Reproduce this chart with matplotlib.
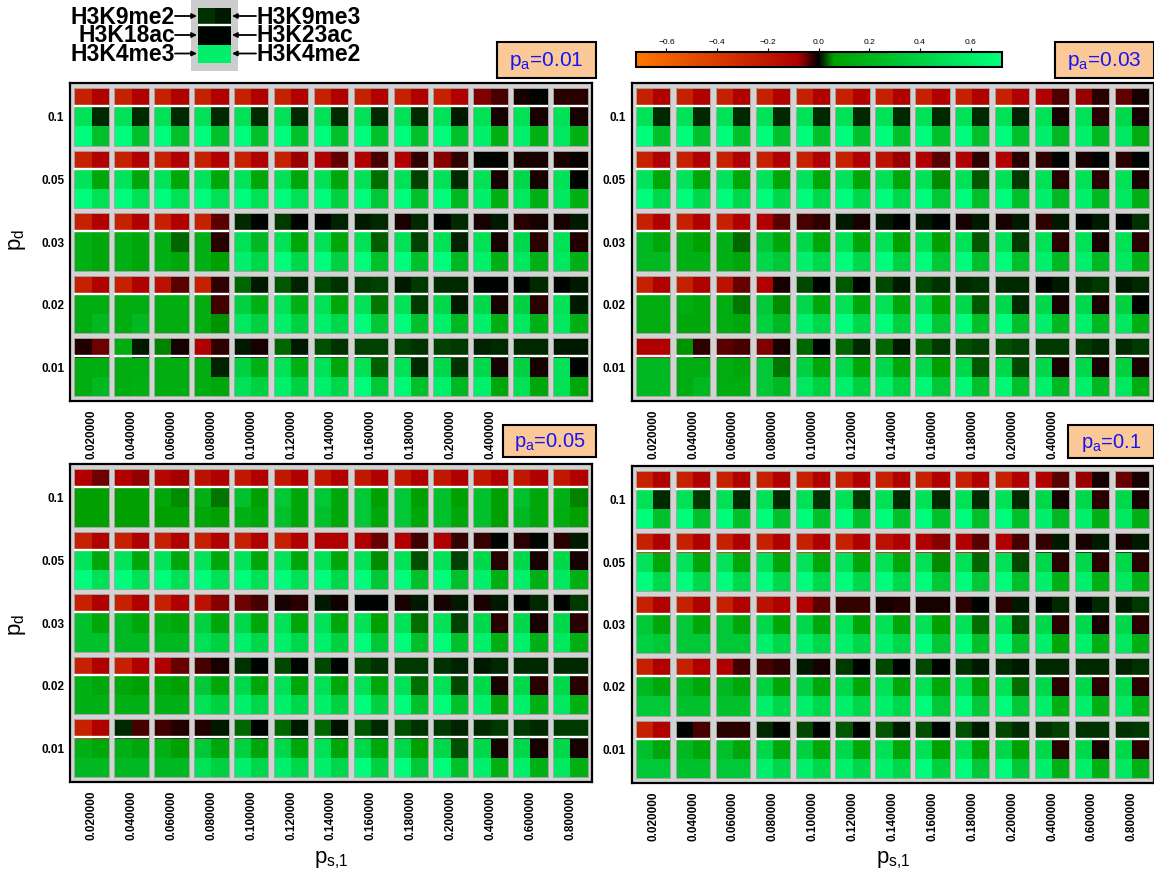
import numpy as np
import matplotlib
matplotlib.use('Agg')
import matplotlib.pyplot as plt
from matplotlib.colors import LinearSegmentedColormap, Normalize
from matplotlib.patches import Rectangle
from matplotlib.cm import ScalarMappable

plt.rcParams['font.family'] = ['Liberation Sans', 'DejaVu Sans']
plt.rcParams['mathtext.default'] = 'regular'

# ---------------- data ----------------
ps1_labels = ['0.020000', '0.040000', '0.060000', '0.080000', '0.100000', '0.120000', '0.140000',
              '0.160000', '0.180000', '0.200000', '0.400000', '0.600000', '0.800000']
pd_labels = ['0.1', '0.05', '0.03', '0.02', '0.01']
pa_labels = ['0.01', '0.03', '0.05', '0.1']
marks = ['H3K9me2', 'H3K9me3', 'H3K18ac', 'H3K23ac', 'H3K4me3', 'H3K4me2']
legend_vals = [0.018, 0.009, 0.0, 0.0, 0.62, 0.62]

# ---- p_a = 0.01 ----
pa001_K9me2 = [
    [-0.25, -0.25, -0.25, -0.25, -0.25, -0.25, -0.25, -0.25, -0.25, -0.25, -0.058, -0.011, -0.018],
    [-0.25, -0.25, -0.25, -0.25, -0.25, -0.25, -0.08, -0.08, -0.08, -0.062, 0.0, -0.011, -0.011],
    [-0.25, -0.25, -0.25, -0.25, 0.015, 0.021, 0.0, 0.009, -0.011, 0.0, -0.011, -0.018, -0.011],
    [-0.25, -0.25, -0.17, -0.25, 0.039, 0.033, 0.027, 0.021, 0.009, 0.015, 0.0, 0.0, 0.0],
    [-0.015, 0.15, 0.048, -0.08, 0.009, 0.039, 0.03, 0.024, 0.024, 0.024, 0.012, 0.015, 0.009]]
pa001_K9me3 = [
    [-0.08, -0.08, -0.08, -0.08, -0.08, -0.08, -0.08, -0.08, -0.08, -0.08, -0.033, 0.0, -0.018],
    [-0.08, -0.08, -0.08, -0.08, -0.08, -0.07, -0.044, -0.033, -0.022, -0.022, 0.0, -0.011, -0.004],
    [-0.08, -0.08, -0.08, -0.04, 0.0, 0.0, 0.012, 0.015, 0.015, 0.015, 0.009, -0.011, 0.009],
    [-0.08, -0.08, -0.04, -0.022, 0.009, 0.012, 0.018, 0.024, 0.021, 0.015, 0.0, 0.015, 0.009],
    [-0.05, 0.009, -0.011, -0.022, -0.011, 0.009, 0.018, 0.024, 0.018, 0.021, 0.015, 0.015, 0.009]]
pa001_K18ac = [
    [0.51, 0.51, 0.51, 0.51, 0.51, 0.51, 0.51, 0.51, 0.51, 0.51, 0.51, 0.51, 0.51],
    [0.53, 0.53, 0.53, 0.53, 0.53, 0.51, 0.51, 0.51, 0.51, 0.51, 0.51, 0.45, 0.51],
    [0.17, 0.17, 0.17, 0.17, 0.51, 0.51, 0.51, 0.51, 0.51, 0.51, 0.51, 0.45, 0.51],
    [0.15, 0.15, 0.15, 0.15, 0.40, 0.51, 0.51, 0.51, 0.51, 0.45, 0.45, 0.40, 0.51],
    [0.15, 0.15, 0.15, 0.15, 0.40, 0.51, 0.51, 0.51, 0.51, 0.45, 0.45, 0.40, 0.51]]
pa001_K23ac = [
    [0.015, 0.015, 0.015, 0.015, 0.015, 0.015, 0.015, 0.015, 0.015, 0.009, -0.011, -0.011, -0.011],
    [0.11, 0.11, 0.11, 0.11, 0.11, 0.11, 0.11, 0.042, 0.024, 0.015, -0.011, -0.011, 0.0],
    [0.11, 0.11, 0.039, -0.018, 0.23, 0.11, 0.11, 0.036, 0.024, 0.012, -0.011, -0.018, -0.015],
    [0.15, 0.15, 0.15, -0.029, 0.17, 0.17, 0.11, 0.045, 0.021, 0.009, -0.011, -0.018, 0.009],
    [0.15, 0.15, 0.15, 0.012, 0.17, 0.17, 0.11, 0.036, 0.015, 0.018, -0.011, -0.011, 0.0]]
pa001_K4me3 = [
    [0.70, 0.70, 0.70, 0.70, 0.70, 0.70, 0.70, 0.70, 0.70, 0.70, 0.62, 0.62, 0.56],
    [0.70, 0.70, 0.70, 0.70, 0.70, 0.70, 0.70, 0.70, 0.70, 0.70, 0.62, 0.56, 0.56],
    [0.17, 0.17, 0.17, 0.17, 0.62, 0.70, 0.70, 0.70, 0.70, 0.70, 0.62, 0.56, 0.56],
    [0.15, 0.15, 0.15, 0.15, 0.56, 0.62, 0.62, 0.70, 0.70, 0.62, 0.62, 0.56, 0.56],
    [0.15, 0.15, 0.15, 0.15, 0.51, 0.62, 0.62, 0.70, 0.67, 0.62, 0.62, 0.51, 0.51]]
pa001_K4me2 = [
    [0.29, 0.29, 0.29, 0.29, 0.29, 0.29, 0.29, 0.29, 0.29, 0.29, 0.17, 0.17, 0.17],
    [0.51, 0.51, 0.51, 0.51, 0.51, 0.51, 0.40, 0.34, 0.29, 0.23, 0.17, 0.17, 0.17],
    [0.11, 0.11, 0.11, 0.06, 0.45, 0.45, 0.40, 0.29, 0.29, 0.23, 0.17, 0.17, 0.17],
    [0.23, 0.23, 0.15, 0.054, 0.40, 0.40, 0.45, 0.34, 0.29, 0.23, 0.17, 0.17, 0.17],
    [0.23, 0.17, 0.15, 0.11, 0.40, 0.40, 0.45, 0.34, 0.29, 0.23, 0.11, 0.11, 0.11]]

# ---- p_a = 0.03 ----
pa003_K9me2 = [
    [-0.25, -0.25, -0.25, -0.25, -0.25, -0.25, -0.25, -0.25, -0.25, -0.25, -0.08, -0.07, -0.044],
    [-0.25, -0.25, -0.25, -0.25, -0.25, -0.25, -0.17, -0.08, -0.08, -0.08, -0.022, -0.011, -0.018],
    [-0.25, -0.25, -0.25, -0.08, -0.033, 0.009, 0.009, 0.009, -0.011, -0.011, -0.022, 0.0, 0.0],
    [-0.25, -0.25, -0.17, -0.08, 0.027, 0.033, 0.027, 0.027, 0.015, 0.015, 0.0, 0.015, 0.009],
    [-0.08, 0.054, -0.04, -0.058, 0.039, 0.039, 0.039, 0.039, 0.03, 0.03, 0.021, 0.021, 0.015]]
pa003_K9me3 = [
    [-0.08, -0.08, -0.08, -0.08, -0.08, -0.08, -0.08, -0.08, -0.08, -0.08, -0.036, -0.018, -0.011],
    [-0.08, -0.08, -0.08, -0.08, -0.08, -0.08, -0.07, -0.04, -0.022, -0.018, 0.0, 0.0, 0.0],
    [-0.08, -0.08, -0.08, -0.04, -0.022, -0.011, 0.0, 0.0, 0.009, 0.009, 0.009, 0.009, 0.018],
    [-0.08, -0.08, -0.047, -0.011, 0.0, 0.0, 0.009, 0.018, 0.018, 0.015, 0.009, 0.021, 0.015],
    [-0.08, -0.022, -0.033, -0.011, 0.0, 0.015, 0.009, 0.021, 0.024, 0.024, 0.021, 0.015, 0.021]]
pa003_K18ac = [
    [0.51, 0.51, 0.51, 0.51, 0.51, 0.51, 0.51, 0.51, 0.51, 0.51, 0.51, 0.51, 0.45],
    [0.53, 0.53, 0.53, 0.53, 0.53, 0.53, 0.51, 0.51, 0.51, 0.51, 0.51, 0.51, 0.51],
    [0.23, 0.17, 0.17, 0.34, 0.45, 0.51, 0.51, 0.51, 0.51, 0.51, 0.51, 0.51, 0.51],
    [0.15, 0.15, 0.15, 0.34, 0.45, 0.51, 0.51, 0.51, 0.45, 0.45, 0.45, 0.45, 0.40],
    [0.23, 0.15, 0.15, 0.34, 0.40, 0.45, 0.45, 0.45, 0.45, 0.45, 0.45, 0.45, 0.40]]
pa003_K23ac = [
    [0.015, 0.015, 0.015, 0.015, 0.015, 0.015, 0.015, 0.015, 0.015, 0.012, -0.011, -0.018, -0.011],
    [0.11, 0.11, 0.11, 0.11, 0.11, 0.11, 0.11, 0.051, 0.033, 0.021, -0.018, -0.018, -0.011],
    [0.11, 0.06, 0.039, 0.11, 0.11, 0.11, 0.06, 0.06, 0.033, 0.021, -0.018, -0.011, -0.018],
    [0.15, 0.11, 0.045, 0.051, 0.11, 0.11, 0.11, 0.06, 0.033, 0.015, -0.011, -0.011, 0.0],
    [0.23, 0.15, 0.11, 0.045, 0.11, 0.11, 0.11, 0.06, 0.033, 0.027, -0.011, -0.011, -0.011]]
pa003_K4me3 = [
    [0.70, 0.70, 0.70, 0.70, 0.70, 0.70, 0.70, 0.70, 0.70, 0.70, 0.62, 0.62, 0.56],
    [0.70, 0.70, 0.70, 0.70, 0.70, 0.70, 0.70, 0.70, 0.70, 0.70, 0.62, 0.62, 0.56],
    [0.23, 0.17, 0.17, 0.45, 0.62, 0.70, 0.70, 0.70, 0.70, 0.70, 0.62, 0.62, 0.56],
    [0.15, 0.11, 0.15, 0.40, 0.62, 0.70, 0.70, 0.70, 0.70, 0.70, 0.62, 0.62, 0.56],
    [0.23, 0.15, 0.15, 0.34, 0.56, 0.62, 0.62, 0.67, 0.67, 0.67, 0.62, 0.62, 0.56]]
pa003_K4me2 = [
    [0.29, 0.29, 0.29, 0.29, 0.29, 0.29, 0.29, 0.29, 0.29, 0.29, 0.23, 0.23, 0.15],
    [0.45, 0.45, 0.45, 0.45, 0.45, 0.45, 0.45, 0.34, 0.29, 0.29, 0.23, 0.23, 0.17],
    [0.23, 0.17, 0.11, 0.34, 0.45, 0.45, 0.40, 0.34, 0.29, 0.29, 0.23, 0.23, 0.17],
    [0.15, 0.11, 0.11, 0.23, 0.45, 0.45, 0.40, 0.34, 0.29, 0.29, 0.23, 0.23, 0.17],
    [0.23, 0.23, 0.15, 0.23, 0.40, 0.40, 0.40, 0.34, 0.29, 0.29, 0.23, 0.23, 0.15]]

# ---- p_a = 0.05 ----
pa005_K9me2 = [
    [-0.08, -0.08, -0.12, -0.17, -0.21, -0.21, -0.21, -0.21, -0.21, -0.21, -0.21, -0.21, -0.21],
    [-0.25, -0.25, -0.25, -0.25, -0.25, -0.25, -0.08, -0.08, -0.08, -0.08, -0.025, -0.018, -0.018],
    [-0.25, -0.25, -0.25, -0.17, -0.05, -0.011, 0.009, 0.0, -0.011, -0.011, -0.011, 0.0, 0.0],
    [-0.25, -0.25, -0.08, -0.033, 0.018, 0.027, 0.027, 0.027, 0.021, 0.018, 0.009, 0.015, 0.015],
    [-0.25, 0.015, -0.029, -0.015, 0.039, 0.039, 0.039, 0.033, 0.03, 0.021, 0.015, 0.021, 0.021]]
pa005_K9me3 = [
    [-0.05, -0.065, -0.075, -0.08, -0.08, -0.08, -0.08, -0.08, -0.08, -0.08, -0.08, -0.08, -0.08],
    [-0.08, -0.08, -0.08, -0.08, -0.08, -0.08, -0.08, -0.047, -0.029, -0.025, 0.0, 0.0, 0.009],
    [-0.08, -0.08, -0.08, -0.062, -0.033, -0.018, -0.007, 0.0, 0.009, 0.009, 0.009, 0.015, 0.021],
    [-0.08, -0.08, -0.047, -0.011, 0.0, 0.0, 0.0, 0.018, 0.021, 0.012, 0.015, 0.015, 0.015],
    [-0.08, -0.033, -0.015, 0.009, 0.0, 0.009, 0.006, 0.015, 0.018, 0.012, 0.021, 0.015, 0.021]]
pa005_K18ac = [
    [0.06, 0.06, 0.11, 0.17, 0.29, 0.34, 0.34, 0.34, 0.34, 0.29, 0.29, 0.29, 0.17],
    [0.53, 0.53, 0.53, 0.53, 0.53, 0.53, 0.51, 0.51, 0.51, 0.51, 0.45, 0.45, 0.45],
    [0.29, 0.23, 0.17, 0.40, 0.45, 0.51, 0.51, 0.51, 0.51, 0.51, 0.45, 0.45, 0.45],
    [0.17, 0.11, 0.11, 0.34, 0.45, 0.51, 0.51, 0.51, 0.51, 0.51, 0.45, 0.45, 0.45],
    [0.17, 0.17, 0.17, 0.34, 0.40, 0.45, 0.51, 0.45, 0.45, 0.45, 0.45, 0.45, 0.45]]
pa005_K23ac = [
    [0.06, 0.06, 0.051, 0.045, 0.06, 0.11, 0.11, 0.06, 0.06, 0.06, 0.06, 0.11, 0.048],
    [0.11, 0.11, 0.11, 0.11, 0.11, 0.11, 0.11, 0.051, 0.03, 0.024, -0.018, -0.011, -0.011],
    [0.11, 0.11, 0.11, 0.11, 0.11, 0.11, 0.11, 0.06, 0.042, 0.024, -0.018, -0.011, -0.018],
    [0.11, 0.06, 0.06, 0.11, 0.11, 0.11, 0.11, 0.11, 0.042, 0.027, -0.011, -0.018, -0.018],
    [0.11, 0.11, 0.06, 0.11, 0.11, 0.11, 0.11, 0.11, 0.06, 0.03, -0.011, -0.011, -0.011]]
pa005_K4me3 = [
    [0.06, 0.06, 0.06, 0.11, 0.17, 0.29, 0.29, 0.34, 0.34, 0.29, 0.29, 0.23, 0.15],
    [0.70, 0.70, 0.70, 0.70, 0.70, 0.70, 0.70, 0.70, 0.70, 0.70, 0.62, 0.62, 0.56],
    [0.29, 0.23, 0.23, 0.51, 0.62, 0.62, 0.62, 0.70, 0.70, 0.70, 0.62, 0.62, 0.56],
    [0.17, 0.17, 0.17, 0.51, 0.62, 0.62, 0.62, 0.70, 0.70, 0.70, 0.62, 0.62, 0.56],
    [0.23, 0.23, 0.23, 0.51, 0.62, 0.62, 0.62, 0.70, 0.70, 0.70, 0.62, 0.62, 0.56]]
pa005_K4me2 = [
    [0.06, 0.06, 0.06, 0.06, 0.11, 0.11, 0.11, 0.11, 0.11, 0.11, 0.06, 0.11, 0.06],
    [0.51, 0.51, 0.51, 0.51, 0.51, 0.51, 0.45, 0.34, 0.29, 0.29, 0.17, 0.17, 0.17],
    [0.29, 0.23, 0.23, 0.40, 0.45, 0.45, 0.40, 0.34, 0.29, 0.29, 0.17, 0.17, 0.17],
    [0.17, 0.17, 0.17, 0.40, 0.45, 0.45, 0.40, 0.40, 0.29, 0.29, 0.11, 0.17, 0.17],
    [0.23, 0.23, 0.23, 0.40, 0.45, 0.45, 0.45, 0.40, 0.34, 0.29, 0.17, 0.17, 0.17]]

# ---- p_a = 0.1 ----
pa01_K9me2 = [
    [-0.25, -0.25, -0.25, -0.25, -0.25, -0.25, -0.25, -0.25, -0.25, -0.25, -0.08, -0.07, -0.047],
    [-0.25, -0.25, -0.25, -0.25, -0.25, -0.25, -0.17, -0.08, -0.08, -0.08, -0.025, -0.011, -0.011],
    [-0.25, -0.25, -0.25, -0.17, -0.08, -0.025, -0.011, -0.011, -0.018, -0.018, 0.0, 0.0, 0.009],
    [-0.25, -0.25, -0.08, -0.033, 0.009, 0.021, 0.027, 0.027, 0.018, 0.015, 0.015, 0.015, 0.012],
    [-0.25, 0.0, -0.018, 0.015, 0.027, 0.033, 0.033, 0.03, 0.03, 0.027, 0.018, 0.018, 0.018]]
pa01_K9me3 = [
    [-0.08, -0.08, -0.08, -0.08, -0.08, -0.08, -0.08, -0.08, -0.08, -0.08, -0.04, -0.011, -0.011],
    [-0.08, -0.08, -0.08, -0.08, -0.08, -0.08, -0.08, -0.062, -0.04, -0.033, 0.009, 0.009, 0.009],
    [-0.08, -0.08, -0.08, -0.08, -0.04, -0.025, -0.015, -0.011, 0.0, 0.009, 0.015, 0.015, 0.021],
    [-0.08, -0.08, -0.029, -0.022, -0.011, 0.0, 0.0, 0.0, 0.009, 0.009, 0.015, 0.015, 0.018],
    [-0.08, -0.033, -0.018, 0.0, 0.0, 0.0, 0.009, 0.0, 0.009, 0.015, 0.024, 0.018, 0.021]]
pa01_K18ac = [
    [0.51, 0.51, 0.51, 0.51, 0.51, 0.51, 0.51, 0.51, 0.51, 0.51, 0.45, 0.45, 0.45],
    [0.53, 0.53, 0.53, 0.53, 0.53, 0.53, 0.51, 0.51, 0.51, 0.51, 0.45, 0.45, 0.45],
    [0.34, 0.34, 0.34, 0.45, 0.45, 0.51, 0.51, 0.51, 0.51, 0.51, 0.45, 0.45, 0.45],
    [0.23, 0.23, 0.23, 0.40, 0.40, 0.45, 0.51, 0.51, 0.51, 0.51, 0.45, 0.45, 0.45],
    [0.29, 0.23, 0.29, 0.45, 0.40, 0.45, 0.51, 0.51, 0.51, 0.45, 0.45, 0.45, 0.45]]
pa01_K23ac = [
    [0.015, 0.021, 0.015, 0.015, 0.018, 0.021, 0.015, 0.015, 0.015, 0.015, -0.011, -0.018, -0.011],
    [0.11, 0.11, 0.11, 0.11, 0.11, 0.11, 0.11, 0.051, 0.039, 0.027, -0.018, -0.018, -0.018],
    [0.11, 0.11, 0.11, 0.11, 0.11, 0.11, 0.11, 0.06, 0.042, 0.03, -0.018, -0.011, -0.018],
    [0.11, 0.11, 0.11, 0.11, 0.11, 0.11, 0.11, 0.11, 0.057, 0.042, -0.018, -0.018, -0.018],
    [0.11, 0.11, 0.11, 0.11, 0.11, 0.11, 0.11, 0.06, 0.06, 0.06, -0.018, -0.011, -0.018]]
pa01_K4me3 = [
    [0.70, 0.70, 0.70, 0.70, 0.70, 0.70, 0.70, 0.70, 0.70, 0.70, 0.62, 0.62, 0.56],
    [0.70, 0.70, 0.70, 0.70, 0.70, 0.70, 0.70, 0.70, 0.70, 0.70, 0.62, 0.62, 0.56],
    [0.40, 0.34, 0.34, 0.62, 0.62, 0.62, 0.62, 0.70, 0.70, 0.70, 0.62, 0.62, 0.56],
    [0.34, 0.29, 0.29, 0.62, 0.62, 0.62, 0.62, 0.70, 0.70, 0.70, 0.62, 0.62, 0.56],
    [0.34, 0.29, 0.34, 0.62, 0.62, 0.62, 0.62, 0.70, 0.70, 0.70, 0.62, 0.62, 0.56]]
pa01_K4me2 = [
    [0.29, 0.29, 0.29, 0.29, 0.29, 0.29, 0.29, 0.29, 0.29, 0.29, 0.23, 0.17, 0.17],
    [0.45, 0.45, 0.45, 0.45, 0.45, 0.45, 0.45, 0.34, 0.34, 0.29, 0.17, 0.17, 0.17],
    [0.34, 0.34, 0.34, 0.45, 0.45, 0.45, 0.45, 0.34, 0.29, 0.29, 0.11, 0.17, 0.17],
    [0.34, 0.29, 0.29, 0.45, 0.45, 0.45, 0.45, 0.34, 0.34, 0.34, 0.17, 0.17, 0.17],
    [0.34, 0.29, 0.34, 0.45, 0.45, 0.45, 0.45, 0.40, 0.34, 0.34, 0.17, 0.17, 0.17]]

panels = [
    [pa001_K9me2, pa001_K9me3, pa001_K18ac, pa001_K23ac, pa001_K4me3, pa001_K4me2],
    [pa003_K9me2, pa003_K9me3, pa003_K18ac, pa003_K23ac, pa003_K4me3, pa003_K4me2],
    [pa005_K9me2, pa005_K9me3, pa005_K18ac, pa005_K23ac, pa005_K4me3, pa005_K4me2],
    [pa01_K9me2, pa01_K9me3, pa01_K18ac, pa01_K23ac, pa01_K4me3, pa01_K4me2],
]

# ---------------- colour scale ----------------
VMAX = 0.722
norm = Normalize(vmin=-VMAX, vmax=VMAX)
def pos(v):
    return (v + VMAX) / (2 * VMAX)
cmap = LinearSegmentedColormap.from_list('rg', [
    (0.0, '#FF7800'),
    (pos(-0.08), '#B00000'),
    (0.5, '#000000'),
    (pos(0.06), '#00A000'),
    (1.0, '#00FF7F')], N=512)

# ---------------- layout ----------------
W, H = 1154, 880
fig = plt.figure(figsize=(W / 100, H / 100), dpi=100)

def fig_rect(x, y, w, h):
    return [x / W, 1 - (y + h) / H, w / W, h / H]

panel_px = [(70, 83, 522, 318), (631.5, 83, 522, 318), (70, 464, 522, 318), (631.5, 466, 522, 317)]
hw, hh = 0.431, 0.46
mx, my = 0.1125, 0.08
tick_font = dict(fontsize=8.5, fontweight='bold')

for p, (px, py, pw, ph) in enumerate(panel_px):
    ax = fig.add_axes(fig_rect(px, py, pw, ph))
    ax.set_facecolor('#D3D3D3')
    data = [np.asarray(m) for m in panels[p]]
    nrow, ncol = data[0].shape
    for r in range(nrow):
        for c in range(ncol):
            vals = np.array([[data[0][r, c], data[1][r, c]],
                             [data[2][r, c], data[3][r, c]],
                             [data[4][r, c], data[5][r, c]]])
            xe = np.array([c - hw, c, c + hw])
            ye = np.linspace(r - hh, r + hh, 4)
            ax.pcolormesh(xe, ye, vals, cmap=cmap, norm=norm, shading='flat')
            ax.add_patch(Rectangle((c - hw, r - hh), 2 * hw, 2 * hh, fill=False,
                                   ec='#A5A5A5', lw=0.7))
            ax.hlines(ye[1] - 0.018, c - hw, c + hw, color='white', lw=1.7)
    ax.set_xlim(-hw - mx, ncol - 1 + hw + mx)
    ax.set_ylim(nrow - 1 + hh + my, -hh - my)
    ax.set_xticks(range(ncol))
    labs = list(ps1_labels)
    if p < 2:
        labs[-2] = ''
        labs[-1] = ''
    ax.set_xticklabels(labs, rotation=90, **tick_font)
    ax.set_yticks(range(nrow))
    ax.set_yticklabels(pd_labels, **tick_font)
    ax.tick_params(axis='x', length=0, pad=6)
    ax.tick_params(axis='y', length=0, pad=4)
    for s in ax.spines.values():
        s.set_linewidth(1.6)
        s.set_color('black')

# overlay in pixel coordinates
ov = fig.add_axes([0, 0, 1, 1])
ov.set_xlim(0, W)
ov.set_ylim(H, 0)
ov.axis('off')

# axis titles
for yc in (240, 625):
    ov.text(18, yc, '$p_d$', rotation=90, ha='center', va='center', fontsize=16)
for xc in (331, 893):
    ov.text(xc, 860, '$p_{s{,}1}$', ha='center', va='center', fontsize=16)

# p_a boxes
boxes = [(497, 42, 99, 36, 15), (1055, 42, 99, 36, 15), (503, 425, 93, 32, 14.5), (1068, 425, 86, 33, 14.5)]
for (bx, by, bw, bh, fs), lab in zip(boxes, pa_labels):
    ov.add_patch(Rectangle((bx, by), bw, bh, fc='#FBC897', ec='black', lw=1.5))
    ov.text(bx + bw / 2, by + bh / 2 + 1, '$p_a$=' + lab, ha='center', va='center',
            fontsize=fs, color='#1515F5')

# legend
ov.add_patch(Rectangle((191, 0), 47, 71, fc='#CCCCCC', ec='none'))
lv = np.array(legend_vals).reshape(3, 2)
lx = np.array([198, 214.5, 231])
ly = np.linspace(8, 63, 4)
ov.pcolormesh(lx, ly, lv, cmap=cmap, norm=norm, shading='flat')
ov.hlines(ly[1] - 1.1, lx[0], lx[-1], color='white', lw=1.7)
ly_c = [16, 35, 53.5]
lbase = [23.5, 42.3, 61]
for i in range(3):
    ov.text(175, lbase[i], marks[2 * i], ha='right', va='baseline', fontsize=16.5, fontweight='bold')
    ov.text(257, lbase[i], marks[2 * i + 1], ha='left', va='baseline', fontsize=16.5, fontweight='bold')
    ov.annotate('', xy=(197, ly_c[i]), xytext=(175, ly_c[i]),
                arrowprops=dict(arrowstyle='-|>', color='black', lw=1.3, mutation_scale=7,
                                shrinkA=0, shrinkB=0))
    ov.annotate('', xy=(232, ly_c[i]), xytext=(256, ly_c[i]),
                arrowprops=dict(arrowstyle='-|>', color='black', lw=1.3, mutation_scale=7,
                                shrinkA=0, shrinkB=0))

# colour bar
cax = fig.add_axes(fig_rect(635.5, 52, 366, 15))
cb = fig.colorbar(ScalarMappable(norm=norm, cmap=cmap), cax=cax, orientation='horizontal',
                  ticks=[-0.6, -0.4, -0.2, 0.0, 0.2, 0.4, 0.6])
cax.xaxis.set_ticks_position('top')
cax.xaxis.set_label_position('top')
cax.tick_params(labelsize=6, length=3, width=0.8, pad=1)
cb.outline.set_linewidth(1.5)

fig.savefig('out.png', dpi=100)
